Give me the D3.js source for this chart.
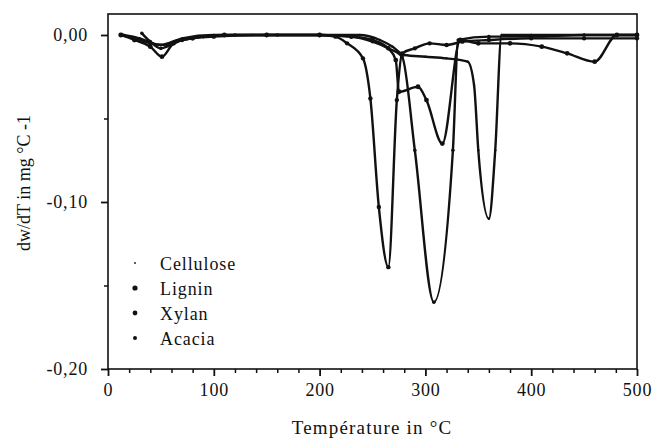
<!DOCTYPE html>
<html>
<head>
<meta charset="utf-8">
<title>DTG</title>
<script src="https://cdn.jsdelivr.net/npm/d3@7"></script>
<style>
  body { margin: 0; background: #fff; }
  text { font-family: "Liberation Serif", "DejaVu Serif", serif; fill: #111; }
</style>
</head>
<body>
<script>
// temperature (°C) / dw/dT (mg/°C) pairs
var cellulose = [
  [15, 0], [30, -0.002], [50, -0.006], [70, -0.002], [100, 0], [150, 0], [200, 0],
  [238, 0], [257, -0.003], [269, -0.007], [280, -0.012], [300, -0.013], [320, -0.014],
  [340, -0.016], [346, -0.03], [350, -0.069], [360, -0.11], [366, -0.069], [372, 0],
  [400, 0], [450, 0], [500, 0]
];
var lignin = [
  [12, 0], [25, -0.003], [40, -0.007], [51, -0.013], [62, -0.005], [80, -0.002],
  [110, 0], [150, 0], [200, 0], [230, -0.001], [250, -0.003], [265, -0.008],
  [272, -0.015], [275, -0.034], [293, -0.031], [301, -0.039], [316, -0.065],
  [333, -0.003], [350, -0.005], [380, -0.005], [410, -0.007], [434, -0.011],
  [460, -0.016], [481, 0], [500, 0]
];
var xylan = [
  [13, 0], [25, -0.002], [40, -0.005], [55, -0.006], [70, -0.003], [100, -0.001],
  [150, 0], [200, 0], [215, -0.001], [226, -0.005], [241, -0.014], [248, -0.038],
  [256, -0.103], [265, -0.139], [273, -0.039], [278, -0.011], [290, -0.008],
  [304, -0.005], [320, -0.006], [335, -0.004], [360, -0.003], [400, -0.002],
  [450, -0.002], [500, -0.002]
];
var acacia = [
  [32, 0.001], [40, -0.004], [50, -0.008], [65, -0.004], [90, -0.001], [120, 0],
  [160, 0], [200, 0], [230, -0.001], [250, -0.004], [265, -0.008], [278, -0.013],
  [290, -0.069], [308, -0.16], [326, -0.069], [331, -0.003], [360, -0.001],
  [400, -0.001], [450, 0], [500, 0]
];
var seriesNames = ["Cellulose", "Lignin", "Xylan", "Acacia"];
var xTicks = [0, 100, 200, 300, 400, 500];
var yTicks = [0, -0.1, -0.2];

var width = 654, height = 444,
    mLeft = 108, mRight = 637, mTop = 14, mBottom = 369;

var x = d3.scaleLinear().domain([0, 500]).range([mLeft, mRight]);
var y = d3.scaleLinear().domain([-0.2, 0.01257]).range([mBottom, mTop]);

var svg = d3.select("body").append("svg")
    .attr("width", width)
    .attr("height", height);

// frame
svg.append("rect")
    .attr("x", mLeft).attr("y", mTop)
    .attr("width", mRight - mLeft).attr("height", mBottom - mTop)
    .attr("fill", "none").attr("stroke", "#111").attr("stroke-width", 1.6);

// x axis
var xAxis = d3.axisBottom(x).tickValues(xTicks).tickSize(7).tickPadding(7)
    .tickFormat(d3.format("d"));
var gx = svg.append("g").attr("transform", "translate(0," + mBottom + ")").call(xAxis);
gx.selectAll(".tick line").attr("stroke", "#111").attr("stroke-width", 1.8);
svg.append("g").attr("transform", "translate(0," + mBottom + ")")
    .call(d3.axisBottom(x).tickValues(d3.range(20, 500, 20).filter(function(d){ return d % 100; }))
        .tickSize(4).tickFormat(""))
    .selectAll(".tick line").attr("stroke", "#111").attr("stroke-width", 1.5);

// y axis
var yAxis = d3.axisLeft(y).tickValues(yTicks).tickSize(7).tickPadding(13)
    .tickFormat(function(d){ return d3.format(".2f")(d).replace(".", ",").replace("−", "-"); });
var gy = svg.append("g").attr("transform", "translate(" + mLeft + ",0)").call(yAxis);
gy.selectAll(".tick line").attr("stroke", "#111").attr("stroke-width", 1.8);
svg.append("g").attr("transform", "translate(" + mLeft + ",0)")
    .call(d3.axisLeft(y).tickValues([-0.05, -0.15]).tickSize(4).tickFormat(""))
    .selectAll(".tick line").attr("stroke", "#111").attr("stroke-width", 1.5);

svg.selectAll(".domain").remove();
svg.selectAll(".tick text")
    .attr("font-size", 18)
    .style("font-family", "'Liberation Serif', serif")
    .style("letter-spacing", "0.8px")
    .attr("fill", "#111");

// axis titles
svg.append("text")
    .attr("x", 372).attr("y", 434)
    .attr("text-anchor", "middle").attr("font-size", 19)
    .style("letter-spacing", "1.2px")
    .text("Température in °C");
svg.append("text")
    .attr("transform", "translate(30,183) rotate(-90)")
    .attr("text-anchor", "middle").attr("font-size", 18)
    .text("dw/dT in mg °C -1");

// curves
var line = d3.line()
    .x(function(d){ return x(d[0]); })
    .y(function(d){ return y(d[1]); })
    .curve(d3.curveMonotoneX);

var data = [cellulose, lignin, xylan, acacia];
var dotR = [1.2, 2.4, 2.2, 1.8];

svg.selectAll("path.curve")
    .data(data)
  .enter().append("path")
    .attr("class", "curve")
    .attr("d", line)
    .attr("fill", "none")
    .attr("stroke", "#111")
    .attr("stroke-width", 2.4);

data.forEach(function(s, i){
    svg.append("g").selectAll("circle")
        .data(s)
      .enter().append("circle")
        .attr("cx", function(d){ return x(d[0]); })
        .attr("cy", function(d){ return y(d[1]); })
        .attr("r", dotR[i])
        .attr("fill", "#111");
});

// legend
var legend = svg.append("g").attr("transform", "translate(135,263)");
seriesNames.forEach(function(name, i){
    var row = legend.append("g").attr("transform", "translate(0," + (i * 25) + ")");
    row.append("circle").attr("cx", 0).attr("cy", 0).attr("r", [0.9, 2.6, 2.4, 2][i]).attr("fill", "#111");
    row.append("text").attr("x", 25).attr("y", 7).attr("font-size", 18)
        .style("letter-spacing", "0.9px").text(name);
});
</script>
</body>
</html>
